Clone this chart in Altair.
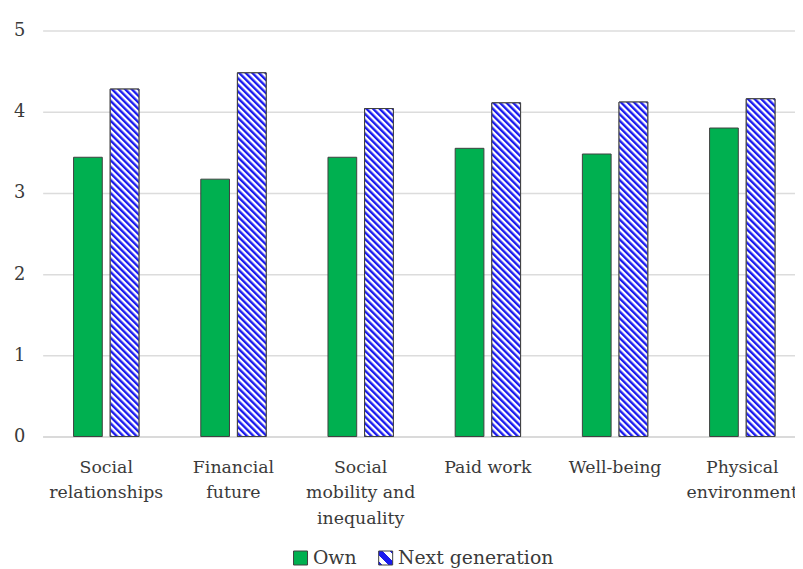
import altair as alt
import pandas as pd
from urllib.parse import quote

categories = ["Social relationships", "Financial future", "Social mobility and inequality",
              "Paid work", "Well-being", "Physical environment"]
tick_labels = [["Social", "relationships"], ["Financial", "future"],
               ["Social", "mobility and", "inequality"], ["Paid work"],
               ["Well-being"], ["Physical", "environment"]]
series = ["Own", "Next generation"]
own_values = [3.44, 3.17, 3.44, 3.55, 3.48, 3.80]
next_values = [4.28, 4.48, 4.04, 4.11, 4.12, 4.16]

rows = []
for c, o, n in zip(categories, own_values, next_values):
    rows.append({"category": c, "series": series[0], "value": o})
    rows.append({"category": c, "series": series[1], "value": n})
df = pd.DataFrame(rows)

GREEN = "#00b050"
BLUE = "#1a1aee"
FONT = "DejaVu Serif"
TEXT = "#3a3a3a"

# hatch image for the "Next generation" bars
svg = ("<svg xmlns='http://www.w3.org/2000/svg'><defs>"
       "<pattern id='h' width='4.7' height='4.7' patternUnits='userSpaceOnUse' "
       "patternTransform='rotate(-45)'>"
       f"<rect width='2.4' height='4.7' fill='{BLUE}'/></pattern></defs>"
       "<rect width='100%' height='100%' fill='white'/>"
       "<rect width='100%' height='100%' fill='url(#h)'/></svg>")
hatch_url = "data:image/svg+xml;charset=utf-8," + quote(svg)

legend_gradient = ("{gradient: 'linear', x1: 0, y1: 1, x2: 1, y2: 0, stops: ["
                   f"{{offset: 0, color: '{BLUE}'}}, {{offset: 0.12, color: '{BLUE}'}},"
                   "{offset: 0.12, color: 'white'}, {offset: 0.36, color: 'white'},"
                   f"{{offset: 0.36, color: '{BLUE}'}}, {{offset: 0.64, color: '{BLUE}'}},"
                   "{offset: 0.64, color: 'white'}, {offset: 0.88, color: 'white'},"
                   f"{{offset: 0.88, color: '{BLUE}'}}, {{offset: 1, color: '{BLUE}'}}]}}")

label_expr = " : ".join(
    f"datum.label == '{c}' ? {lbl!r}".replace('"', "'") for c, lbl in zip(categories, tick_labels)
) + " : datum.label"

x_enc = alt.X("category:N", sort=categories,
              scale=alt.Scale(range=[0, 771], paddingInner=0.486, paddingOuter=0.243),
              axis=alt.Axis(title=None, labelAngle=0, ticks=False, labelExpr=label_expr,
                            labelFont=FONT, labelFontSize=17.5, labelColor=TEXT,
                            labelLineHeight=26, labelPadding=22, labelBaseline="top",
                            domainColor="#d6d6d6", domainWidth=1.5, labelLimit=300))
xoff_enc = alt.XOffset("series:N", sort=series,
                       scale=alt.Scale(domain=series, paddingInner=0.216, paddingOuter=0))
y_enc = alt.Y("value:Q", scale=alt.Scale(domain=[0, 5], nice=False),
              axis=alt.Axis(title=None, values=[0, 1, 2, 3, 4, 5], domain=False, ticks=False,
                            labelFont=FONT, labelFontSize=18, labelColor=TEXT,
                            labelPadding=18, gridColor="#dcdcdc", gridWidth=1.5))

base = alt.Chart(df).encode(x=x_enc, xOffset=xoff_enc, y=y_enc)

bars = base.mark_bar(stroke="#404040", strokeWidth=1).encode(
    color=alt.Color("series:N", sort=series,
                    scale=alt.Scale(domain=series, range=[GREEN, alt.ExprRef(legend_gradient)]),
                    legend=alt.Legend(title=None, orient="none", legendX=251, legendY=523,
                                      direction="horizontal",
                                      symbolType="square", symbolSize=200,
                                      symbolStrokeColor="#404040", symbolStrokeWidth=1,
                                      symbolOpacity=1, labelFont=FONT, labelFontSize=19,
                                      labelColor=TEXT, labelOffset=3, columnPadding=19))
)

hatch = base.transform_filter(alt.datum.series == "Next generation").mark_image(
    aspect=False
).encode(url=alt.value(hatch_url), y2=alt.datum(0))

outline = base.transform_filter(alt.datum.series == "Next generation").mark_bar(
    fillOpacity=0, stroke="#404040", strokeWidth=1
)

chart = alt.layer(bars, hatch, outline).properties(
    width=760, height=410, autosize="none",
    padding={"left": 35, "top": 20, "right": 0, "bottom": 131},
).configure_view(stroke=None)

chart.save("out.html", embed_options={"renderer": "svg", "actions": False})
